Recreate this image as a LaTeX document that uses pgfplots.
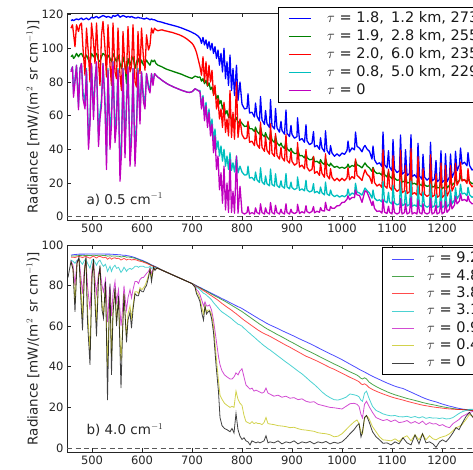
\documentclass[border=0pt]{standalone}
\usepackage{fontspec}
\setmainfont{DejaVu Sans}
\usepackage{pgfplots}
\usepackage{pgfplotstable}
\pgfplotsset{compat=1.18}

\definecolor{mb}{rgb}{0,0,1}
\definecolor{mg}{rgb}{0,0.5,0}
\definecolor{mr}{rgb}{1,0,0}
\definecolor{mc}{rgb}{0,0.75,0.75}
\definecolor{mm}{rgb}{0.75,0,0.75}
\definecolor{my}{rgb}{0.75,0.75,0}

\newcommand\tickfont{\fontsize{11.5}{13}\selectfont}
\newcommand\labfont{\fontsize{13.5}{16}\selectfont}
\newcommand\legfont{\fontsize{14.5}{17}\selectfont}

% 0.5 cm^-1 resolution spectra: x, then radiance for the five cases
\pgfplotstableread{
x b g r c m
458 116.5 95.0 112.0 87.0 86.0
461 117.0 96.0 114.0 89.0 89.0
463 116.5 94.0 109.0 74.0 71.0
466 117.0 95.0 101.0 82.0 80.0
469 117.5 97.0 114.0 90.0 90.0
473 117.0 95.0 110.0 66.0 63.5
476 117.5 96.5 114.0 88.0 88.0
479 118.0 97.0 115.0 91.0 91.0
482 117.0 95.0 100.0 74.0 70.0
486 117.5 94.0 84.0 68.0 64.0
489 118.0 96.0 112.0 88.0 87.0
493 117.0 93.0 96.0 45.0 40.0
496 117.5 92.0 80.0 58.0 55.0
499 118.5 97.0 115.0 90.0 91.0
503 118.0 95.0 104.0 62.0 57.7
506 118.5 96.0 91.0 82.0 80.0
509 119.0 97.0 115.0 91.0 92.0
513 118.0 93.0 92.0 47.0 41.7
516 118.5 92.0 78.0 62.0 58.0
519 119.0 95.0 108.0 70.0 66.0
522 119.5 97.0 116.0 91.0 91.0
526 119.0 96.0 100.0 70.0 65.0
529 118.5 93.0 83.0 36.0 28.0
532 119.0 96.0 114.0 88.0 87.0
536 118.5 94.0 90.0 50.0 40.0
539 118.0 92.0 78.0 62.0 55.0
542 119.5 97.0 115.0 92.0 92.0
546 119.0 94.0 86.0 50.0 44.0
549 119.5 92.0 82.0 62.0 55.0
552 120.0 96.0 112.0 88.0 87.0
556 118.5 91.0 84.0 30.0 21.0
559 119.0 88.0 75.0 45.0 38.0
562 119.5 95.0 110.0 88.0 88.0
566 119.0 90.0 88.0 42.0 35.0
569 118.5 79.0 85.0 70.0 65.0
572 119.0 94.0 113.0 88.0 89.0
576 118.5 90.0 86.0 36.0 30.0
579 119.0 93.0 89.0 50.0 45.0
582 118.5 95.0 114.0 88.0 88.0
586 118.0 88.0 80.0 38.0 30.0
589 118.0 92.0 77.0 55.0 50.0
592 118.5 94.0 110.0 88.0 87.0
596 118.0 90.0 85.0 60.0 55.0
599 118.0 93.0 112.0 86.0 86.0
603 117.5 90.0 94.0 72.0 68.0
606 117.5 91.0 87.0 67.0 64.0
609 118.0 93.0 108.0 85.0 85.0
613 117.5 91.0 99.0 78.0 76.0
616 117.0 90.0 102.0 75.0 73.5
619 117.5 93.0 112.0 85.0 85.0
622 117.0 92.0 109.0 80.0 78.0
625 117.0 93.0 112.0 85.0 85.0
628 116.5 91.0 111.0 84.0 84.0
632 116.0 90.0 110.5 82.8 82.8
636 115.8 89.5 110.8 82.0 82.0
640 115.5 89.0 111.0 81.0 81.0
645 115.0 88.2 110.5 80.0 80.0
650 114.6 87.5 110.2 79.0 79.0
655 114.2 87.0 109.8 78.2 78.2
660 113.8 86.5 109.5 77.5 77.5
665 113.4 86.0 109.0 76.8 76.8
670 113.0 85.5 108.5 76.2 76.2
675 112.5 85.0 108.0 75.6 75.6
680 112.0 84.5 107.3 75.0 75.0
685 111.4 83.8 106.5 74.5 74.5
690 110.8 83.2 105.5 74.0 74.0
695 110.2 82.6 104.3 73.8 73.8
700 109.5 82.2 103.0 74.2 74.2
703 109.0 82.8 101.8 75.0 75.0
706 108.6 83.5 100.0 76.0 76.0
709 108.0 83.2 97.5 75.5 75.5
712 107.3 82.8 94.0 75.0 75.0
716 106.0 83.0 89.0 75.0 74.0
719 103.0 80.5 84.0 66.0 64.0
722 106.5 82.0 95.0 72.0 71.0
725 102.0 79.0 80.0 60.0 57.0
728 105.0 81.0 92.0 68.0 66.0
731 100.0 77.5 78.0 56.0 53.0
734 104.0 79.5 90.0 64.0 62.0
737 99.0 75.5 80.0 52.0 48.0
740 103.0 77.0 87.0 58.0 55.0
743 97.0 73.0 72.0 45.0 38.0
746 101.0 74.5 78.0 52.0 48.0
749 94.0 70.0 64.0 40.0 28.0
752 99.0 72.0 70.0 45.0 36.0
755 90.0 67.0 58.0 36.0 16.0
758 97.0 69.0 64.0 42.0 26.0
761 86.0 64.0 53.0 33.0 8.0
764 100.0 67.0 68.0 40.0 30.0
767 82.0 61.0 50.0 30.0 4.0
770 92.0 63.0 58.0 36.0 20.0
773 78.0 59.0 48.0 28.0 2.5
776 96.0 62.0 75.0 38.0 34.0
779 75.0 57.5 47.0 27.5 2.5
782 88.0 59.0 62.0 32.0 15.0
785 72.0 56.5 46.0 26.5 2.0
789 90.0 59.0 80.0 36.0 36.0
792 69.0 55.5 47.0 26.0 2.0
796 80.0 57.0 58.0 30.0 18.0
800 66.8 55.4 48.8 26.5 2.4
805 64.0 53.6 46.2 24.7 1.6
810 64.4 53.8 46.8 24.9 2.4
812 73.0 56.0 56.6 30.0 6.0
815 61.6 52.2 44.2 22.9 1.6
820 62.0 52.2 44.8 23.3 2.4
825 59.2 50.6 42.2 21.5 1.6
827 67.5 53.2 51.3 26.5 5.2
830 59.7 50.6 42.9 21.9 2.4
835 56.8 49.0 40.6 20.3 1.6
837 71.3 53.3 56.2 29.0 7.6
840 57.5 49.0 41.2 20.7 2.4
845 54.8 47.4 38.8 19.1 1.6
847 63.1 49.9 47.8 24.2 5.2
850 55.3 47.4 39.4 19.5 2.4
855 53.0 45.7 37.1 18.3 1.6
857 69.6 50.6 55.2 28.3 8.4
860 54.0 45.6 37.8 19.1 2.4
865 52.1 44.0 35.8 18.1 1.6
867 64.3 47.9 49.4 25.5 6.8
870 52.8 43.8 36.4 18.5 2.4
875 50.2 42.1 34.2 17.3 1.6
878 56.6 43.7 41.2 21.3 4.4
880 51.2 42.1 35.2 18.1 2.4
885 49.0 40.5 33.0 16.9 1.6
888 63.4 45.1 49.0 25.6 7.6
890 49.6 40.5 33.6 17.7 2.4
895 47.6 38.9 31.8 16.5 1.6
898 54.2 40.6 38.8 20.5 4.4
900 48.8 38.9 32.8 17.3 2.6
905 46.6 37.5 30.6 16.1 1.8
910 47.6 37.6 31.7 16.9 2.7
911 58.8 40.6 44.0 23.6 7.3
915 45.4 36.2 29.5 15.7 1.9
920 46.4 36.3 30.6 16.5 2.9
925 44.2 34.9 28.4 15.3 2.1
928 54.6 38.0 39.8 21.6 6.5
930 45.1 35.1 29.4 15.9 3.0
935 42.8 33.8 27.1 14.7 2.2
940 43.7 34.0 28.1 15.3 3.1
943 50.6 35.6 35.8 19.6 6.0
945 41.5 32.6 25.8 14.2 2.3
950 42.3 32.9 26.8 15.0 3.2
955 40.0 31.7 24.5 13.7 2.6
957 46.8 33.9 31.9 17.6 5.4
960 40.8 32.1 25.7 14.2 3.6
965 38.5 30.9 23.4 12.9 3.3
967 51.0 34.7 37.3 20.5 8.5
970 39.4 31.3 24.5 13.5 4.2
975 37.0 30.1 22.4 12.5 3.6
977 42.2 31.8 28.5 15.8 6.0
980 37.8 30.6 23.4 13.1 5.0
985 35.9 29.3 21.4 11.9 5.0
990 37.3 29.9 22.8 12.8 6.4
995 36.0 28.8 21.2 11.6 6.6
1000 37.8 29.4 22.8 12.5 8.4
1005 37.0 28.7 21.4 11.8 8.6
1010 39.3 29.7 23.1 13.0 10.4
1012 44.9 31.2 29.1 16.4 12.4
1015 38.4 29.2 21.9 12.5 10.1
1020 40.8 30.4 23.8 14.0 11.4
1025 39.7 29.8 22.6 13.3 11.3
1027 50.3 33.2 34.3 19.8 15.8
1030 41.8 30.9 24.6 14.7 12.9
1035 40.7 30.1 23.2 14.0 12.6
1040 38.5 29.0 21.5 12.8 8.5
1043 41.0 30.5 25.0 15.0 12.0
1046 42.3 31.9 27.8 17.0 15.4
1050 40.2 30.1 25.2 15.5 14.6
1055 38.8 28.9 23.8 14.0 10.9
1060 34.2 26.9 19.7 11.0 6.6
1062 42.0 29.3 28.8 15.8 9.2
1065 33.8 26.9 20.3 11.0 4.9
1070 31.2 25.6 18.2 9.5 3.1
1075 32.0 25.9 19.3 10.0 3.4
1080 29.7 24.6 17.2 8.7 2.1
1082 50.3 30.9 39.8 21.0 10.3
1085 30.9 25.0 18.4 9.4 2.7
1090 28.9 23.6 16.9 8.2 1.8
1093 39.2 26.8 28.2 14.5 6.2
1095 29.6 23.9 17.6 8.8 2.6
1100 27.2 22.6 15.7 7.5 1.6
1102 45.8 28.2 36.2 18.7 9.2
1105 28.3 22.9 16.9 8.2 2.4
1110 26.2 21.6 15.0 7.0 1.6
1115 27.3 21.9 16.1 7.7 2.4
1117 48.5 28.1 39.6 20.5 10.8
1120 25.2 20.6 14.2 6.5 1.6
1125 26.4 21.0 15.3 7.3 2.4
1127 39.8 25.1 30.3 15.3 7.6
1130 24.4 20.0 13.7 6.3 1.6
1135 25.6 20.3 14.8 7.2 2.4
1138 48.7 27.1 40.5 21.0 11.6
1140 23.7 19.4 13.2 6.1 1.6
1145 24.9 19.8 14.3 7.0 2.4
1150 23.0 18.9 12.8 5.9 1.6
1152 43.6 25.1 35.5 18.4 10.0
1155 24.1 19.2 13.8 6.8 2.4
1160 22.2 18.4 12.4 5.8 1.6
1162 37.0 22.9 28.5 14.7 7.6
1165 23.5 18.8 13.4 6.7 2.4
1170 21.7 18.0 12.0 5.6 1.6
1175 23.0 18.4 13.0 6.5 2.4
1177 44.2 24.7 36.8 19.3 10.8
1180 21.2 17.6 11.7 5.5 1.6
1185 22.5 17.8 12.7 6.4 2.4
1188 33.4 21.2 25.5 13.1 6.8
1190 20.7 17.1 11.4 5.4 1.6
1195 22.0 17.2 12.5 6.3 2.4
1198 39.1 22.5 31.9 16.6 9.2
1200 20.2 16.6 11.2 5.3 1.6
1205 21.8 17.6 12.8 6.5 2.8
1207 37.3 22.1 30.3 15.7 9.1
1210 20.7 17.1 12.2 5.7 2.6
1215 23.6 18.6 15.3 7.6 4.4
1217 37.2 22.7 30.4 15.8 10.0
1220 23.2 18.6 15.2 7.5 4.6
1225 26.8 20.2 18.5 10.0 6.9
1227 38.8 23.6 31.7 17.2 12.0
1230 27.2 20.1 18.7 10.5 7.6
1235 30.8 21.6 21.6 13.0 9.4
1237 40.8 24.7 32.4 19.2 13.6
1240 31.2 21.6 21.2 13.5 9.6
1245 32.3 21.9 22.1 14.0 10.2
1250 30.2 20.6 19.7 12.5 9.1
1252 38.1 22.9 28.5 17.4 12.3
1255 30.5 20.9 20.0 13.0 9.2
1260 27.7 19.6 17.7 11.5 7.6
1265 28.6 20.1 18.8 12.2 7.9
1270 26.2 19.1 16.7 11.0 6.6
}\hirestable

% 4.0 cm^-1 resolution spectra: x, then radiance for the seven optical depths
\pgfplotstableread{
x b g r c m y k
452 nan nan nan nan nan nan 84
458 95.0 94.5 94.0 92.5 92 91.5 92
462 95.2 94.6 94.0 92.0 90 88 88
466 95.3 94.6 93.8 91.0 80 72 67
470 95.4 94.7 94.2 92.5 92 91 91
474 95.5 94.8 94.3 93.0 93 93 94
478 95.5 94.8 94.1 91.5 84 78 72
481 95.5 94.7 93.8 90.5 76 64 58
485 95.5 94.8 94.2 92.5 89 88 87
488 95.6 94.9 94.4 93.0 93 93.5 94
491 95.6 94.9 94.0 91.0 80 68 62
496 95.6 94.8 93.5 88.5 68 48 41
500 95.6 94.9 94.2 92.5 88 85 84
503 95.6 95.0 94.5 93.0 92 92.5 93
506 95.6 94.9 94.0 91.5 83 76 72
509 95.6 94.8 93.6 90.0 76 62 55
513 95.6 95.0 94.3 92.0 86 84 83
516 95.6 95.0 94.4 92.5 88 88 90
520 95.6 94.9 94.0 90.5 80 71 68
523 95.6 94.8 93.7 89.5 77 66 64
527 95.5 94.8 94.0 90.5 83 80 82
529 95.5 94.7 93.6 89.0 74 60 55
531 95.5 94.5 93.0 87.0 62 40 23.6
534 95.5 94.6 93.5 88.5 74 64 62
536 95.5 94.7 93.8 89.5 80 76 81
539 95.4 94.5 93.0 87.0 65 45 36
542 95.4 94.6 93.5 89.0 76 68 66
546 95.3 94.6 93.7 90.0 82 78 79
549 95.3 94.5 93.3 88.5 72 62 60
553 95.2 94.5 93.5 89.0 78 74 75
556 95.2 94.3 93.0 87.5 68 54 48
558 95.1 94.1 92.6 86.5 60 43 29.5
561 95.0 94.2 93.0 87.5 68 58 56
564 95.0 94.4 93.4 89.0 80 76 76
567 94.9 94.2 93.0 88.0 72 62 62
569 94.8 94.0 92.6 87.0 68 55 52
572 94.7 94.1 93.0 88.0 74 66 63
576 94.5 94.0 93.0 88.5 78 70 67
579 94.3 93.8 92.6 88.0 74 64 59
582 94.1 93.7 92.8 88.5 78 70 68
586 93.8 93.5 92.8 89.5 82 77 76
590 93.4 93.1 92.5 89.5 82 77 75
593 93.1 92.8 92.2 89.0 81 76 75
596 92.8 92.5 92.0 89.5 83 79 78
600 92.5 92.2 91.8 89.5 84 78 77
603 92.2 91.9 91.5 89.5 84 79 77
606 91.8 91.6 91.2 89.0 85 80 79
609 91.5 91.3 91.0 89.0 86 82 80
613 91.0 90.8 90.5 89.0 87 85 84
616 90.6 90.5 90.2 89.5 88.5 88 88
619 90.2 90.0 89.8 88.5 86 84 82
623 89.8 89.6 89.5 89.0 88.5 88.5 89
626 89.4 89.3 89.2 89.0 88.5 88 87.5
630 89.0 88.9 88.8 88.7 88.7 88.7 88.7
640 87.6 87.6 87.6 87.6 87.6 87.6 87.6
650 86.5 86.5 86.5 86.5 86.5 86.5 86.5
660 85.4 85.4 85.4 85.4 85.4 85.4 85.4
670 84.3 84.3 84.3 84.3 84.3 84.3 84.3
680 83.2 83.2 83.2 83.2 83.2 83.2 83.2
690 82.1 82.1 82.1 82.1 82.1 82.1 82.1
700 81.0 81.0 81.0 81.0 81.0 81.0 81.0
706 80.3 80.3 80.2 80.1 79.8 79.5 79.2
709 79.9 79.8 79.6 79.2 78.0 76.8 76.0
713 79.4 79.3 79.1 78.6 77.0 75.5 74.0
716 79.1 78.9 78.6 77.9 75.5 73.5 72.0
720 78.6 78.4 78.0 77.0 72.5 69.0 66.0
723 78.2 78.0 77.5 76.2 70.0 66.0 63.0
726 77.8 77.6 77.1 75.9 72.0 70.0 70.0
729 77.5 77.2 76.6 75.3 70.0 67.0 66.0
732 77.1 76.8 76.1 74.6 70.0 68.0 67.0
735 76.7 76.4 75.6 74.0 70.5 68.0 67.5
739 76.2 75.8 75.0 73.0 68.0 66.0 64.0
743 75.7 75.3 74.3 71.6 63.0 60.0 57.0
748 75.1 74.6 73.5 70.2 54.0 46.0 41.0
753 74.5 74.0 72.6 68.8 45.0 33.0 27.6
756 74.1 73.6 72.0 67.9 41.0 26.0 15.0
760 73.6 73.0 71.2 67.0 38.0 24.0 11.0
765 73.0 72.4 70.3 66.2 36.0 22.0 9.6
770 72.4 71.7 69.4 65.3 35.0 21.0 9.0
776 71.6 70.8 68.4 64.3 34.0 20.0 8.0
780 71.1 70.2 67.7 63.5 34.0 20.5 9.6
784 70.6 69.6 66.9 62.6 35.0 20.0 7.4
788 70.1 69.0 66.2 61.8 37.0 28.0 17.0
792 69.6 68.4 65.4 61.0 36.0 24.0 9.0
796 69.2 67.8 64.6 60.6 38.0 22.0 5.8
800 68.7 67.2 63.8 60.0 39.0 21.0 4.2
804 68.1 66.5 63.0 59.0 35.0 16.0 5.0
808 67.5 65.8 62.3 58.2 31.0 13.0 3.5
812 66.9 65.1 61.6 57.2 30.0 12.5 3.0
816 66.3 64.4 60.9 56.4 29.0 12.0 1.5
820 65.7 63.7 60.2 55.5 29.5 13.0 3.5
824 65.1 63.0 59.5 54.7 28.0 12.0 3.0
828 64.5 62.3 58.8 53.8 28.5 12.5 2.5
832 63.9 61.6 58.1 52.9 28.0 12.0 3.0
836 63.3 60.9 57.5 52.1 27.5 12.0 2.5
840 62.8 60.3 56.9 51.2 27.0 11.5 3.0
844 62.2 59.6 56.4 50.4 27.5 12.5 3.5
848 61.6 59.0 55.9 49.7 29.5 15.0 6.0
852 61.1 58.4 55.5 48.9 27.0 12.0 2.5
856 60.6 57.9 55.0 48.3 26.5 11.8 3.0
864 59.7 56.8 53.9 46.8 25.5 11.5 2.5
872 58.8 55.7 52.8 45.3 26.0 11.0 3.5
880 57.8 54.7 51.7 43.8 25.0 10.8 2.0
888 56.9 53.6 50.6 42.3 25.5 10.5 3.0
896 56.0 52.5 49.6 40.9 24.5 10.0 2.5
904 55.1 51.5 48.5 39.4 24.8 10.2 3.5
912 54.1 50.4 47.4 37.9 23.8 9.5 2.0
920 53.2 49.3 46.3 36.5 24.2 9.0 3.0
928 52.3 48.3 45.2 34.8 23.0 8.8 2.5
936 51.4 47.4 44.4 33.0 22.5 8.5 3.2
944 50.4 46.4 43.5 31.4 22.8 8.2 2.0
952 49.4 45.4 42.6 29.6 21.5 7.5 3.0
960 48.4 44.4 41.6 27.6 21.0 7.2 2.5
968 47.4 43.4 40.6 26.0 20.5 7.0 3.2
976 46.4 42.4 39.6 24.8 20.0 6.5 2.0
984 45.5 41.4 38.8 23.8 19.8 5.5 2.8
992 44.5 40.5 37.8 23.6 19.5 5.8 2.3
1000 43.5 39.5 36.8 24.2 19.2 7.0 3.0
1008 42.4 38.5 35.8 25.0 20.5 9.0 4.8
1016 41.3 37.5 34.8 26.6 21.8 11.0 7.0
1024 40.2 36.6 33.9 26.2 22.0 12.8 9.0
1030 39.4 35.9 33.2 25.8 21.5 13.8 11.0
1034 38.8 35.2 32.6 25.2 20.5 12.0 12.0
1038 38.3 34.3 31.6 23.5 16.5 8.0 5.4
1041 37.9 34.0 31.2 23.0 14.8 7.0 8.0
1045 37.4 34.6 31.6 27.0 21.5 14.5 15.0
1049 36.9 34.0 31.0 28.0 23.0 16.0 16.0
1054 36.2 32.5 29.8 24.5 20.5 14.5 13.0
1061 35.3 31.3 28.8 20.5 17.5 10.5 8.0
1068 34.5 30.3 28.0 18.5 15.0 8.0 5.5
1075 33.7 29.4 27.3 17.7 14.2 5.5 4.0
1082 32.9 28.6 26.6 16.8 13.5 4.0 2.3
1090 32.0 27.7 25.9 16.2 14.0 3.8 2.5
1098 31.2 26.9 25.2 15.8 13.0 3.5 1.5
1106 30.4 26.2 24.6 16.0 13.8 4.5 3.0
1114 29.8 25.6 24.1 15.4 12.5 3.2 2.0
1122 29.3 25.0 23.6 15.3 12.8 5.0 5.0
1130 28.4 24.4 23.0 15.6 13.5 6.0 2.5
1138 27.5 23.9 22.5 15.0 12.2 3.5 1.5
1146 26.6 23.4 22.0 15.5 13.0 6.5 6.4
1154 25.7 22.9 21.5 14.8 12.0 4.0 2.0
1161 24.9 22.4 21.1 15.4 13.2 7.0 7.0
1168 24.2 22.0 20.8 14.6 11.5 4.0 2.5
1175 23.6 21.6 20.5 15.0 12.5 6.0 3.0
1182 23.1 21.3 20.2 14.7 11.8 4.5 2.0
1188 22.7 21.0 20.0 14.8 12.0 4.0 0.3
1195 22.1 20.6 19.8 14.5 11.0 5.0 3.0
1201 21.6 20.3 19.6 14.8 11.5 5.5 4.0
1208 21.1 20.0 19.4 14.3 10.5 6.0 3.0
1215 20.6 19.7 19.2 14.4 10.0 7.0 5.0
1222 20.2 19.4 19.1 15.0 12.0 8.5 7.5
1228 19.8 19.2 19.0 16.0 13.0 10.0 10.0
1234 19.5 19.0 18.9 17.0 14.0 10.5 9.0
1240 19.2 18.9 18.9 17.8 15.5 11.5 12.0
1248 18.9 18.8 18.8 18.5 16.5 14.0 15.5
1255 18.6 18.6 18.7 19.0 17.5 16.5 17.5
1262 18.3 18.3 18.4 19.0 18.0 15.5 15.0
1276 17.7 17.8 18.0 18.5 17.5 16.0 16.0
}\lorestable

\pgfplotsset{
  spec/.style={
    scale only axis, width=475pt, height=207pt,
    xmin=450, xmax=1400,
    xtick={500,600,...,1300},
    tick align=inside,
    axis line style={black!85, line width=0.8pt},
    major tick style={black!85, line width=0.6pt},
    tick label style={font=\tickfont, text=black!85},
    /pgf/number format/1000 sep={},
    /pgf/number format/assume math mode=true,
    every axis y label/.style={at={(axis description cs:-0.0716,0.5)}, rotate=90, anchor=center, font=\labfont, text=black!85},
    ylabel={Radiance [mW/(m$^2$\enspace sr cm$^{-1}$)]},
    legend image code/.code={\draw[#1, line width=0.8pt] (0pt,0pt) -- (22pt,0pt);},
    legend cell align=left,
  },
  zeroline/.style={black!65, line width=0.9pt, dash pattern=on 5pt off 3.5pt, forget plot},
}

\begin{document}
\begin{tikzpicture}
\useasboundingbox (0pt,0pt) rectangle (473pt,-469pt);
\clip (0pt,0pt) rectangle (473pt,-469pt);

\begin{axis}[spec,
  at={(67pt,-220pt)}, anchor=south west,
  ymin=-2, ymax=121, ytick={0,20,...,120},
  legend style={at={(axis description cs:0.4442,1.029)}, anchor=north west,
    draw=black, line width=0.8pt, fill=white, font=\legfont, text=black!90,
    inner xsep=10pt, inner ysep=4.5pt, row sep=4.5pt, column sep=16pt,
    nodes={inner sep=0pt, text height=10.5pt, text depth=3pt}},
]
\addplot[zeroline] coordinates {(450,0) (1400,0)};
\addplot[mb, line width=1.3pt, line join=round] table[x=x, y=b] {\hirestable};
\addplot[mg, line width=1.3pt, line join=round] table[x=x, y=g] {\hirestable};
\addplot[mr, line width=1.3pt, line join=round] table[x=x, y=r] {\hirestable};
\addplot[mc, line width=1.3pt, line join=round] table[x=x, y=c] {\hirestable};
\addplot[mm, line width=1.3pt, line join=round] table[x=x, y=m] {\hirestable};
\addlegendentry{$\tau$ = 1.8,\enspace 1.2 km, 273 K}
\addlegendentry{$\tau$ = 1.9,\enspace 2.8 km, 255 K}
\addlegendentry{$\tau$ = 2.0,\enspace 6.0 km, 235 K}
\addlegendentry{$\tau$ = 0.8,\enspace 5.0 km, 229 K}
\addlegendentry{$\tau$ = 0}
\node[anchor=base west, font=\labfont, text=black!85] at (rel axis cs:0.0337,0.077) {a) 0.5 cm$^{-1}$};
\end{axis}

\begin{axis}[spec,
  at={(67pt,-452pt)}, anchor=south west,
  ymin=-2, ymax=100, ytick={0,20,...,100},
  legend style={at={(axis description cs:0.6632,0.9903)}, anchor=north west,
    draw=black, line width=0.8pt, fill=white, font=\legfont, text=black!90,
    inner xsep=9pt, inner ysep=5pt, row sep=3.8pt, column sep=13pt,
    nodes={inner sep=0pt, text height=10.5pt, text depth=3pt}},
]
\addplot[zeroline] coordinates {(450,0) (1400,0)};
\addplot[mb, opacity=0.7, line width=0.8pt] table[x=x, y=b] {\lorestable};
\addplot[mg, opacity=0.7, line width=0.8pt] table[x=x, y=g] {\lorestable};
\addplot[mr, opacity=0.7, line width=0.8pt] table[x=x, y=r] {\lorestable};
\addplot[mc, opacity=0.7, line width=0.8pt] table[x=x, y=c] {\lorestable};
\addplot[mm, opacity=0.7, line width=0.8pt] table[x=x, y=m] {\lorestable};
\addplot[my, opacity=0.7, line width=0.8pt] table[x=x, y=y] {\lorestable};
\addplot[black, opacity=0.75, line width=0.8pt] table[x=x, y=k] {\lorestable};
\addlegendentry{$\tau$ = 9.2}
\addlegendentry{$\tau$ = 4.8}
\addlegendentry{$\tau$ = 3.8}
\addlegendentry{$\tau$ = 3.1}
\addlegendentry{$\tau$ = 0.9}
\addlegendentry{$\tau$ = 0.4}
\addlegendentry{$\tau$ = 0}
\node[anchor=base west, font=\labfont, text=black!85] at (rel axis cs:0.0337,0.085) {b) 4.0 cm$^{-1}$};
\end{axis}
\end{tikzpicture}
\end{document}
